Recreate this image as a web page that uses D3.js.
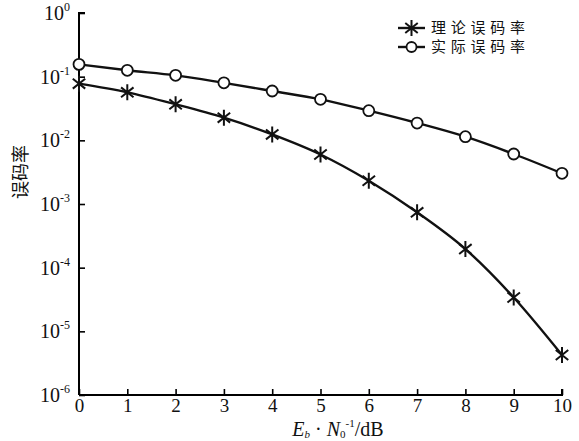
<!DOCTYPE html>
<html>
<head>
<meta charset="utf-8">
<script src="https://cdn.jsdelivr.net/npm/d3@7"></script>
<style>
  body { margin: 0; background: #fff; }
  svg text { fill: #111; }
  .serif { font-family: "Liberation Serif", "Times New Roman", Tinos, "DejaVu Serif", serif; }
  .cjk { font-family: "Noto Sans CJK SC", "Noto Sans CJK JP", sans-serif; }
</style>
</head>
<body>
<div id="chart"></div>
<script>
'use strict';

// Eb/N0 in dB
const snr = [0, 1, 2, 3, 4, 5, 6, 7, 8, 9, 10];
// theoretical BER (asterisk)
const berTheory = [0.0776, 0.0568, 0.0368, 0.0227, 0.0124, 0.0060, 0.00232, 0.00074, 0.000196, 0.000034, 0.00000425];
// measured BER (circle)
const berActual = [0.156, 0.126, 0.105, 0.080, 0.0596, 0.0441, 0.0292, 0.0187, 0.0114, 0.0061, 0.00303];
const yTickExp = [0, -1, -2, -3, -4, -5, -6];
const seriesNames = ['理论误码率', '实际误码率'];

const width = 579, height = 441;
const margin = {left: 79, right: 17, top: 13, bottom: 46};

const svg = d3.select('#chart').append('svg')
  .attr('width', width)
  .attr('height', height);

const x = d3.scaleLinear().domain([0, 10]).range([margin.left, width - margin.right]);
const y = d3.scaleLog().domain([1e-6, 1]).range([height - margin.bottom, margin.top]);

// x axis
const xAxis = svg.append('g')
  .attr('transform', 'translate(0,' + (height - margin.bottom) + ')')
  .call(d3.axisBottom(x).tickValues(snr).tickSize(-6).tickFormat(d3.format('d')));
xAxis.attr('font-family', null).attr('font-size', null);
xAxis.select('.domain').attr('d', 'M' + x(0) + ',0H' + x(10) + 'V-6').attr('stroke-width', 2);
xAxis.selectAll('.tick line').attr('stroke-width', 1.6);
xAxis.selectAll('.tick text')
  .attr('y', 4)
  .attr('class', 'serif')
  .attr('font-size', 19);

// y axis
const yAxis = svg.append('g')
  .attr('transform', 'translate(' + margin.left + ',0)')
  .call(d3.axisLeft(y).tickValues(yTickExp.map(e => Math.pow(10, e))).tickSize(-6).tickFormat(''));
yAxis.attr('font-family', null).attr('font-size', null);
yAxis.select('.domain').attr('d', 'M6,' + y(1) + 'H0V' + y(1e-6)).attr('stroke-width', 2);
yAxis.selectAll('.tick line').attr('stroke-width', 1.6);

yAxis.selectAll('.tick').each(function(d) {
  const e = Math.round(Math.log10(d));
  const t = d3.select(this).append('text')
    .attr('class', 'serif')
    .attr('x', -9)
    .attr('dy', '0.32em')
    .attr('text-anchor', 'end')
    .attr('font-size', 20);
  t.append('tspan').text('10');
  t.append('tspan').attr('dy', -9).attr('font-size', 12).text(e === 0 ? '0' : '-' + (-e));
});

// axis titles
svg.append('text')
  .attr('class', 'cjk')
  .attr('transform', 'translate(27,172) rotate(-90)')
  .attr('text-anchor', 'middle')
  .attr('font-size', 18)
  .text('误码率');

const xt = svg.append('text')
  .attr('class', 'serif')
  .attr('x', 338)
  .attr('y', 436)
  .attr('text-anchor', 'middle')
  .attr('font-size', 20);
xt.append('tspan').attr('font-style', 'italic').text('E');
xt.append('tspan').attr('font-style', 'italic').attr('font-size', 11).attr('dy', 2).text('b');
xt.append('tspan').attr('dy', -2).text(' · ');
xt.append('tspan').attr('font-style', 'italic').text('N');
xt.append('tspan').attr('font-size', 11).attr('dy', 2).text('0');
xt.append('tspan').attr('font-size', 11).attr('dy', -11).text('-1');
xt.append('tspan').attr('dy', 9).text('/dB');

// lines
const line = d3.line()
  .x((d, i) => x(snr[i]))
  .y(d => y(d))
  .curve(d3.curveMonotoneX);

[berActual, berTheory].forEach(data => {
  svg.append('path')
    .datum(data)
    .attr('d', line)
    .attr('fill', 'none')
    .attr('stroke', '#111')
    .attr('stroke-width', 2.4);
});

function asterisk(s) {
  const a = s * 0.78, b = s * 0.62;
  return 'M0,' + (-s) + 'V' + s +
    'M' + (-a) + ',' + (-b) + 'L' + a + ',' + b +
    'M' + (-a) + ',' + b + 'L' + a + ',' + (-b);
}

svg.append('g').selectAll('path')
  .data(berTheory)
  .enter().append('path')
    .attr('transform', (d, i) => 'translate(' + x(snr[i]) + ',' + y(d) + ')')
    .attr('d', asterisk(8))
    .attr('fill', 'none')
    .attr('stroke', '#111')
    .attr('stroke-width', 2);

svg.append('g').selectAll('circle')
  .data(berActual)
  .enter().append('circle')
    .attr('cx', (d, i) => x(snr[i]))
    .attr('cy', d => y(d))
    .attr('r', 5.5)
    .attr('fill', '#fff')
    .attr('stroke', '#111')
    .attr('stroke-width', 1.8);

// legend
const legend = svg.append('g').attr('transform', 'translate(398,28)');
seriesNames.forEach((name, i) => {
  const row = legend.append('g').attr('transform', 'translate(0,' + (i * 19) + ')');
  row.append('line')
    .attr('x1', 0).attr('x2', 27)
    .attr('stroke', '#111').attr('stroke-width', 2.4);
  if (i === 0) {
    row.append('path')
      .attr('transform', 'translate(13.5,0)')
      .attr('d', asterisk(8))
      .attr('fill', 'none').attr('stroke', '#111').attr('stroke-width', 2);
  } else {
    row.append('circle')
      .attr('cx', 13.5).attr('r', 5)
      .attr('fill', '#fff').attr('stroke', '#111').attr('stroke-width', 1.8);
  }
  row.append('text')
    .attr('class', 'cjk')
    .attr('x', 33)
    .attr('dy', '0.35em')
    .attr('font-size', 15)
    .attr('textLength', 94)
    .text(name);
});
</script>
</body>
</html>
